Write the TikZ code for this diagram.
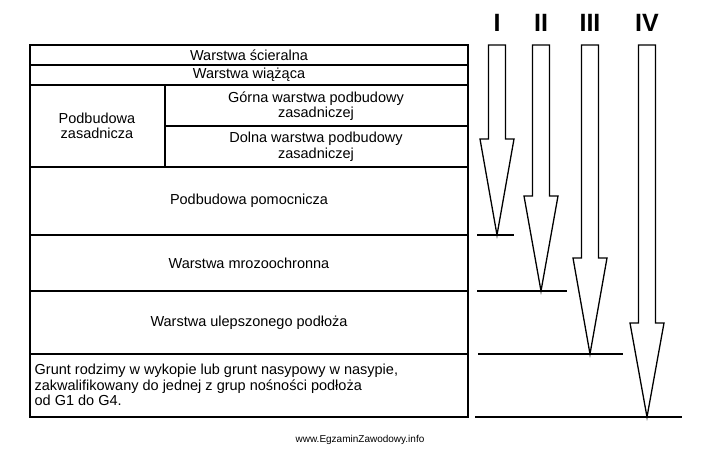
\documentclass[tikz,border=0pt]{standalone}
\usepackage{fontspec}
\setmainfont{Liberation Sans}
\usetikzlibrary{positioning}
\tikzset{
  layer/.style={font=\fontsize{14.5}{15.5}\selectfont, align=center, inner sep=0pt},
  numeral/.style={font=\fontsize{25}{27}\selectfont\bfseries, inner sep=0pt},
}
\begin{document}
\begin{tikzpicture}[x=1pt, y=-1pt, line width=1.3pt]
	\useasboundingbox (0,0) rectangle (718,449);

		% table of layers
		\draw (30,45) rectangle (468,417);
		\foreach \yy in {65,85,167,235,291,354}
			\draw (30,\yy) -- (468,\yy);
		\draw (165,85) -- (165,167);
		\draw (165,126) -- (468,126);

		\node[layer] (scier) at (249,55) {Warstwa ścieralna};
		\node[layer] (wiaz) at (249,75) {Warstwa wiążąca};
		\node[layer] (podzas) at (97,126) {Podbudowa\\zasadnicza};
		\node[layer] (gorna) at (316,106) {Górna warstwa podbudowy\\zasadniczej};
		\node[layer] (dolna) at (316,147) {Dolna warstwa podbudowy\\zasadniczej};
		\node[layer] (pomoc) at (249,201) {Podbudowa pomocnicza};
		\node[layer] (mroz) at (249,263) {Warstwa mrozoochronna};
		\node[layer] (ulep) at (249,323) {Warstwa ulepszonego podłoża};
		\node[layer, align=left, anchor=west] (grunt) at (34,385) {Grunt rodzimy w wykopie lub grunt nasypowy w nasypie,\\zakwalifikowany do jednej z grup nośności podłoża\\od G1 do G4.};

		% arrows: centre x / head y / tip y / line start / line end
		\foreach \cx/\hy/\ty/\la/\lb/\nm in {497/139/235/477/514/I, 541/196/291/477/567/II, 590/258/354/478/623/III, 647/323/417/475/682/IV}{
			\node[numeral] (num\nm) at (\cx,23) {\nm};
			\draw[line join=miter] (\cx-8.5,45) -- (\cx+8.5,45) -- (\cx+8.5,\hy) -- (\cx+17,\hy)
				-- (\cx,\ty) -- (\cx-17,\hy) -- (\cx-8.5,\hy) -- cycle;
			\draw (\la,\ty) -- (\lb,\ty);
		}

		\node[font=\fontsize{10}{11}\selectfont, inner sep=0pt] (www) at (360,440) {www.EgzaminZawodowy.info};
	\end{tikzpicture}
\end{document}
